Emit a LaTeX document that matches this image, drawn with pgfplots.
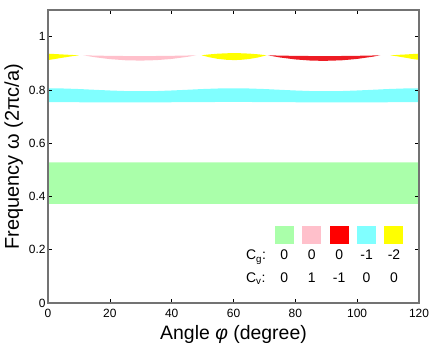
\documentclass[border=0pt]{standalone}
\usepackage{pgfplots}
\pgfplotsset{compat=1.18}
\usepackage{fontspec}
\setmainfont{Liberation Sans}

\definecolor{bgreen}{RGB}{170,255,170}
\definecolor{bpink}{RGB}{255,192,203}
\definecolor{bred}{RGB}{237,28,36}
\definecolor{lred}{RGB}{255,0,0}
\definecolor{bcyan}{RGB}{128,255,255}
\definecolor{byellow}{RGB}{255,255,0}

\begin{document}
\begin{tikzpicture}
\begin{axis}[
  name=ax,
  scale only axis,
  width=371bp, height=293bp,
  xmin=0, xmax=120, ymin=0, ymax=1.1,
  xtick={0,20,40,60,80,100,120},
  ytick={0,0.2,0.4,0.6,0.8,1},
  tick align=inside,
  major tick length=4bp,
  tick style={black, line width=0.6bp},
  axis line style={black!55, line width=1.2bp},
  axis on top,
  /pgf/number format/assume math mode=true,
  tick label style={font=\fontsize{12}{14}\selectfont},
  xticklabel style={yshift=-3bp},
  yticklabel style={xshift=1bp},
  xlabel style={font=\fontsize{19.5}{22}\selectfont, yshift=-1bp},
  ylabel style={font=\fontsize{20}{22}\selectfont, yshift=-1bp},
  xlabel={Angle \textit{φ} (degree)},
  ylabel={Frequency ω (2πc/a)},
  every axis plot/.append style={no markers, draw=none},
]
% band 1 (green), flat
\addplot[fill=bgreen] coordinates {
(0,0.372) (120,0.372) (120,0.528) (0,0.528) (0,0.372)};
% band 2 (cyan): upper edge then lower edge back
\addplot[fill=bcyan] coordinates {
(0,0.806) (5,0.8053) (10,0.8033) (15,0.8005) (20,0.7978) (25,0.7957) (30,0.795)
(35,0.7957) (40,0.7978) (45,0.8005) (50,0.8033) (55,0.8053) (60,0.806)
(65,0.8053) (70,0.8033) (75,0.8005) (80,0.7978) (85,0.7957) (90,0.795)
(95,0.7957) (100,0.7978) (105,0.8005) (110,0.8033) (115,0.8053) (120,0.806)
(120,0.754) (90,0.753) (60,0.755) (30,0.753) (0,0.754) (0,0.806)};
% yellow lens at 0
\addplot[fill=byellow] coordinates {
(0,0.936) (2,0.9348) (4,0.9335) (6,0.9323) (8,0.9311) (10,0.930)
(8,0.9268) (6,0.9232) (4,0.9196) (2,0.9156) (0,0.912) (0,0.936)};
% pink lens
\addplot[fill=bpink] coordinates {
(11.4,0.930) (15,0.9289) (20,0.9278) (25,0.9272) (30,0.927) (35,0.9273) (40,0.928) (45,0.9291) (48,0.930)
(45,0.924) (40,0.9163) (35,0.9117) (30,0.910) (25,0.9113) (20,0.9156) (15,0.9229) (11.4,0.930)};
% yellow lens at 60
\addplot[fill=byellow] coordinates {
(49.7,0.930) (52,0.9331) (55,0.936) (58,0.9376) (60.2,0.938) (62,0.9378) (65,0.9363) (68,0.9336) (70.7,0.930)
(68,0.9219) (65,0.9158) (62,0.9125) (60.2,0.912) (58,0.9128) (55,0.9164) (52,0.923) (49.7,0.930)};
% red lens
\addplot[fill=bred] coordinates {
(71,0.930) (75,0.9288) (80,0.9278) (85,0.9272) (89.25,0.927) (95,0.9273) (100,0.928) (105,0.9292) (107.5,0.930)
(105,0.9246) (100,0.9163) (95,0.9111) (89.25,0.909) (85,0.9101) (80,0.9144) (75,0.9218) (71,0.930)};
% yellow lens at 120
\addplot[fill=byellow] coordinates {
(110.7,0.930) (112.6,0.9311) (114.4,0.9323) (116.3,0.9335) (118.1,0.9348) (120,0.936)
(120,0.913) (118.1,0.9156) (116.3,0.9196) (114.4,0.9232) (112.6,0.9268) (110.7,0.930)};
% legend block
\node[anchor=base west, inner sep=0] at (axis cs:64.0,0.221) {\hspace{24.6bp}%
\makebox[27.4bp]{\textcolor{bgreen}{\rule{19bp}{18.6bp}}}%
\makebox[27.4bp]{\textcolor{bpink}{\rule{19bp}{18.6bp}}}%
\makebox[27.4bp]{\textcolor{lred}{\rule{19bp}{18.6bp}}}%
\makebox[27.4bp]{\textcolor{bcyan}{\rule{19bp}{18.6bp}}}%
\makebox[27.4bp]{\textcolor{byellow}{\rule{19bp}{18.6bp}}}};
\node[anchor=base west, inner sep=0, font=\fontsize{14}{16}\selectfont] at (axis cs:64.0,0.162) {%
\makebox[24.6bp][l]{C\textsubscript{g}:}%
\makebox[27.4bp]{0}\makebox[27.4bp]{0}\makebox[27.4bp]{0}\makebox[27.4bp]{-1}\makebox[27.4bp]{-2}};
\node[anchor=base west, inner sep=0, font=\fontsize{14}{16}\selectfont] at (axis cs:64.0,0.077) {%
\makebox[24.6bp][l]{C\textsubscript{v}:}%
\makebox[27.4bp]{0}\makebox[27.4bp]{1}\makebox[27.4bp]{-1}\makebox[27.4bp]{0}\makebox[27.4bp]{0}};
\draw[black, line width=1.2bp] (rel axis cs:1,0) -- (rel axis cs:1,1);
\end{axis}
\pgfresetboundingbox
\path ([shift={(-48bp,-47.7bp)}]ax.south west) rectangle ([shift={(17bp,10bp)}]ax.north east);
\end{tikzpicture}
\end{document}
